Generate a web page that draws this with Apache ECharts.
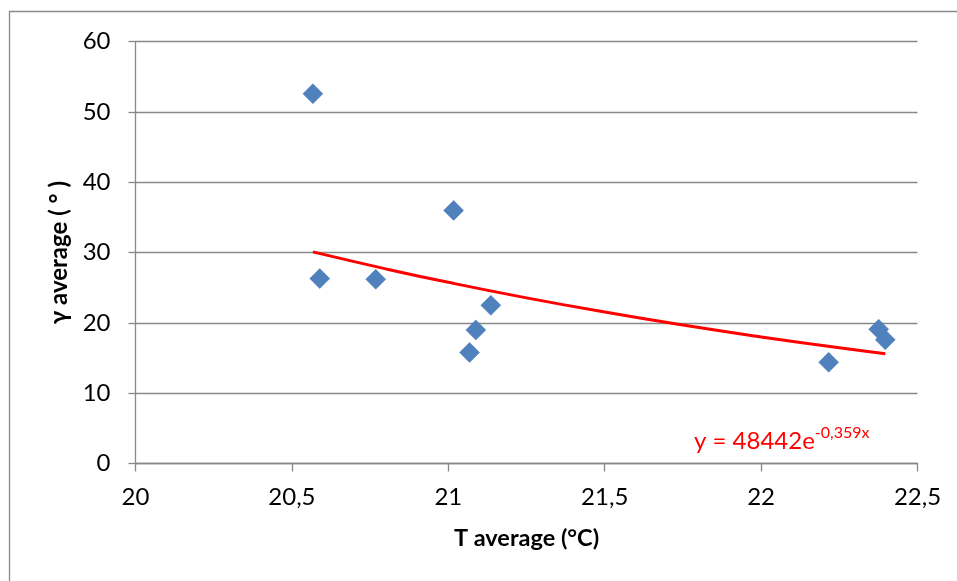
<!DOCTYPE html>
<html>
<head>
<meta charset="utf-8">
<script src="https://cdn.jsdelivr.net/npm/echarts@6/dist/echarts.min.js"></script>
<style>html,body{margin:0;padding:0;background:#fff;}#c{width:957px;height:581px;}</style>
</head>
<body>
<div id="c"></div>
<script>
// Measured points (T average, γ average)
const tValues = [20.567, 20.589, 20.768, 21.017, 21.068, 21.088, 21.136, 22.216, 22.376, 22.397];
const gammaValues = [52.6, 26.3, 26.2, 36.0, 15.8, 19.0, 22.5, 14.4, 19.1, 17.6];
// Trendline points
const trendX = [20.567, 20.8, 21.0, 21.25, 21.5, 21.75, 22.0, 22.25, 22.397];
const trendY = [30.10, 27.69, 25.77, 23.56, 21.54, 19.69, 18.00, 16.45, 15.61];
const yTicks = [0, 10, 20, 30, 40, 50, 60];
const xTicks = [20, 20.5, 21, 21.5, 22, 22.5];

const chart = echarts.init(document.getElementById('c'), null, {renderer: 'canvas'});
const grey = '#898989';
const font = 'Lato, "Open Sans", "DejaVu Sans", sans-serif';

chart.setOption({
  animation: false,
  backgroundColor: '#fff',
  grid: {left: 135.5, right: 39.5, top: 41.7, bottom: 117.5, containLabel: false},
  xAxis: {
    type: 'value', min: xTicks[0], max: xTicks[xTicks.length - 1], interval: 0.5,
    name: 'T average (°C)', nameLocation: 'middle', nameGap: 63,
    nameTextStyle: {fontFamily: font, fontWeight: 'bold', fontSize: 23.5, color: '#000'},
    axisLine: {show: true, lineStyle: {color: grey, width: 1.3}},
    axisTick: {show: true, length: 8, inside: false, lineStyle: {color: grey, width: 1.3}},
    splitLine: {show: false},
    axisLabel: {fontFamily: font, fontSize: 24, color: '#000', margin: 22,
      formatter: v => String(v).replace('.', ',')}
  },
  yAxis: {
    type: 'value', min: yTicks[0], max: yTicks[yTicks.length - 1], interval: 10,
    name: 'γ average ( ° )', nameLocation: 'middle', nameGap: 61, nameRotate: 90,
    nameTextStyle: {fontFamily: font, fontWeight: 'bold', fontSize: 24, color: '#000'},
    axisLine: {show: true, lineStyle: {color: grey, width: 1.3}},
    axisTick: {show: true, length: 7, inside: false, lineStyle: {color: grey, width: 1.3}},
    splitLine: {show: true, lineStyle: {color: grey, width: 1.3}},
    axisLabel: {fontFamily: font, fontSize: 24, color: '#000', margin: 25}
  },
  title: {
    text: '{a|y = 48442e}{b|-0,359x}',
    left: 689, top: 420,
    textStyle: {
      fontWeight: 'normal',
      rich: {
        a: {fontFamily: font, fontSize: 24, fontWeight: 'normal', color: '#ff0000', verticalAlign: 'bottom', lineHeight: 28},
        b: {fontFamily: font, fontSize: 16, fontWeight: 'normal', color: '#ff0000', verticalAlign: 'top', lineHeight: 28}
      }
    }
  },
  graphic: [{
    type: 'rect', silent: true, z: -1,
    shape: {x: 9.5, y: 11.5, width: 1000, height: 700},
    style: {fill: 'none', stroke: grey, lineWidth: 1.3}
  }],
  series: [
    {
      type: 'line', data: trendX.map((x, i) => [x, trendY[i]]),
      smooth: true, showSymbol: false, symbol: 'none',
      lineStyle: {color: '#ff0000', width: 3}, z: 3
    },
    {
      type: 'scatter', data: tValues.map((x, i) => [x, gammaValues[i]]),
      symbol: 'diamond', symbolSize: [20, 20],
      itemStyle: {color: '#4F81BD', borderColor: '#4a7ab4', borderWidth: 0.5, opacity: 1}, z: 4
    }
  ]
});
</script>
</body>
</html>
